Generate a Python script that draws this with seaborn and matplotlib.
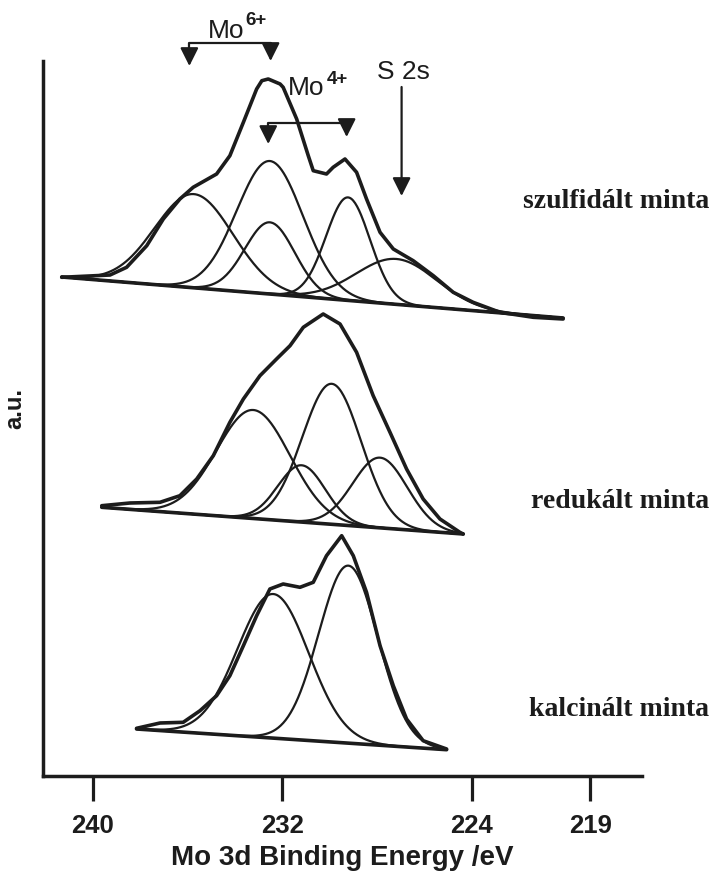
import numpy as np
import matplotlib
matplotlib.use('Agg')
import matplotlib.pyplot as plt
import seaborn as sns

#%% data (binding energy in eV, intensity in a.u.)
# measured envelopes
szulf_E = [241.32, 239.28, 238.58, 237.73, 237.03, 236.33, 235.77, 234.78, 234.22, 233.65,
           233.09, 232.87, 232.60, 232.10, 231.97, 231.40, 230.91, 230.70, 230.14, 229.86,
           229.36, 228.87, 228.45, 227.88, 227.32, 226.48, 225.63, 224.79, 223.95, 222.82,
           221.41, 220.15]
szulf_I = [497.7, 500, 507.7, 529.3, 556, 576, 587.7, 601, 619.3, 652.7,
           686, 694.3, 696, 691, 687.7, 656, 619.3, 604.3, 601, 607.7,
           616, 602.7, 576, 542.7, 526, 514.3, 499.3, 482.7, 472.7, 462.7,
           457.7, 456]

reduk_E = [239.63, 238.44, 237.17, 236.33, 235.62, 234.92, 234.22, 233.65, 232.95, 232.25,
           231.68, 231.12, 230.28, 229.57, 228.87, 228.17, 227.46, 226.76, 226.06, 225.35,
           224.51, 224.37]
reduk_I = [269.3, 272, 272.7, 279.3, 296, 319.3, 352.7, 376, 399.3, 416,
           429.3, 447.7, 461, 451, 422.7, 379.3, 342.7, 306, 276, 256,
           242.7, 241]

kalc_E = [238.16, 237.17, 236.19, 235.48, 234.78, 234.22, 233.65, 233.09, 232.53, 231.97,
          231.26, 230.70, 230.14, 229.50, 229.01, 228.45, 227.88, 227.32, 226.76, 226.06,
          225.07]
kalc_I = [46.7, 52, 52.7, 64.3, 79.3, 99.3, 129.3, 159.3, 186, 191,
          187.7, 192.7, 219.3, 239.3, 219.3, 182.7, 129.3, 89.3, 56, 34.3,
          26]

# linear backgrounds (start, end)
szulf_base_E = [241.32, 220.15]
szulf_base_I = [498, 457]
reduk_base_E = [239.63, 224.37]
reduk_base_I = [267.7, 241]
kalc_base_E = [238.16, 225.07]
kalc_base_I = [46, 25.3]

# fitted components: centre (eV), height above background, sigma (eV)
szulf_cen = [235.74, 232.53, 232.53, 229.23, 227.19]
szulf_hgt = [93.7, 133, 71.7, 103, 45.4]
szulf_sig = [1.65, 1.40, 1.05, 0.93, 1.70]

reduk_cen = [233.23, 231.19, 229.92, 227.88]
reduk_hgt = [108.5, 56.8, 140.5, 70.2]
reduk_sig = [1.55, 1.0, 1.24, 1.15]

kalc_cen = [232.39, 229.22]
kalc_hgt = [144.1, 177.5]
kalc_sig = [1.5, 1.25]

xticks = [240, 232, 224, 219]
ink = '#1c1c1c'

#%% plotting
sns.set_style('white')
plt.rcParams['font.family'] = ['Liberation Sans', 'DejaVu Sans']

fig = plt.figure(figsize=(7.13, 8.78), dpi=100)
ax = fig.add_axes([43 / 713, 101 / 878, 599 / 713, 715 / 878])


def draw_spectrum(env_E, env_I, base_E, base_I, cen, hgt, sig):
    e = np.linspace(min(base_E), max(base_E), 500)
    base = np.interp(e, base_E[::-1], base_I[::-1])
    for c, h, s in zip(cen, hgt, sig):
        comp = base + h * np.exp(-0.5 * ((e - c) / s) ** 2)
        sns.lineplot(x=e, y=comp, ax=ax, color=ink, lw=1.6, estimator=None, sort=False)
    sns.lineplot(x=base_E, y=base_I, ax=ax, color=ink, lw=2.6, estimator=None, sort=False)
    sns.lineplot(x=env_E, y=env_I, ax=ax, color=ink, lw=2.6, estimator=None, sort=False)


draw_spectrum(szulf_E, szulf_I, szulf_base_E, szulf_base_I, szulf_cen, szulf_hgt, szulf_sig)
draw_spectrum(reduk_E, reduk_I, reduk_base_E, reduk_base_I, reduk_cen, reduk_hgt, reduk_sig)
draw_spectrum(kalc_E, kalc_I, kalc_base_E, kalc_base_I, kalc_cen, kalc_hgt, kalc_sig)

ax.set_xlim(242.11, 216.82)
ax.set_ylim(-1, 714)
ax.set_xticks(xticks)
ax.set_xticklabels([str(t) for t in xticks])
ax.set_yticks([])
for side in ['top', 'right']:
    ax.spines[side].set_visible(False)
for side in ['left', 'bottom']:
    ax.spines[side].set_linewidth(2.5)
    ax.spines[side].set_color(ink)
ax.tick_params(axis='x', bottom=True, direction='out', length=18, width=2.3, pad=9,
               labelsize=18.5, color=ink, labelcolor=ink)
for lbl in ax.get_xticklabels():
    lbl.set_fontweight('bold')
ax.set_xlabel('Mo 3d Binding Energy /eV', fontsize=20, fontweight='bold',
              color=ink, labelpad=5)
ax.set_ylabel('')
fig.text(15 / 713, 1 - 409 / 878, 'a.u.', rotation=90, ha='center', va='center',
         fontsize=17, fontweight='bold', color=ink)

# sample names
for name, py in [('szulfidált minta', 208), ('redukált minta', 508), ('kalcinált minta', 716)]:
    fig.text(709 / 713, 1 - py / 878, name, ha='right', va='baseline',
             fontsize=20, fontweight='bold', family='Liberation Serif', color=ink)

# peak assignments
arrow = dict(arrowstyle='-|>,head_length=0.5,head_width=0.25', color=ink, lw=1.6,
             mutation_scale=22, shrinkA=0, shrinkB=0)
ax.plot([235.93, 235.93, 232.50, 232.50], [718, 732, 732, 722], color=ink, lw=1.6, clip_on=False)
ax.annotate('', xy=(235.93, 709), xytext=(235.93, 722), arrowprops=arrow, annotation_clip=False)
ax.annotate('', xy=(232.50, 714), xytext=(232.50, 726), arrowprops=arrow, annotation_clip=False)
ax.text(235.15, 738, 'Mo', fontsize=19, color=ink, ha='left', va='baseline', clip_on=False)
ax.text(233.55, 751, '6+', fontsize=13.5, fontweight='bold', color=ink,
        ha='left', va='baseline', clip_on=False)

ax.plot([232.60, 232.60, 229.29, 229.29], [640, 652, 652, 646], color=ink, lw=1.6, clip_on=False)
ax.annotate('', xy=(232.60, 631), xytext=(232.60, 644), arrowprops=arrow, annotation_clip=False)
ax.annotate('', xy=(229.29, 638), xytext=(229.29, 650), arrowprops=arrow, annotation_clip=False)
ax.text(231.77, 681, 'Mo', fontsize=19, color=ink, ha='left', va='baseline')
ax.text(230.15, 692, '4+', fontsize=13.5, fontweight='bold', color=ink,
        ha='left', va='baseline')

ax.annotate('', xy=(226.97, 579), xytext=(226.97, 688), arrowprops=arrow, annotation_clip=False)
ax.text(228.01, 697, 'S 2s', fontsize=19, color=ink, ha='left', va='baseline')

plt.savefig('out.png', dpi=100)
